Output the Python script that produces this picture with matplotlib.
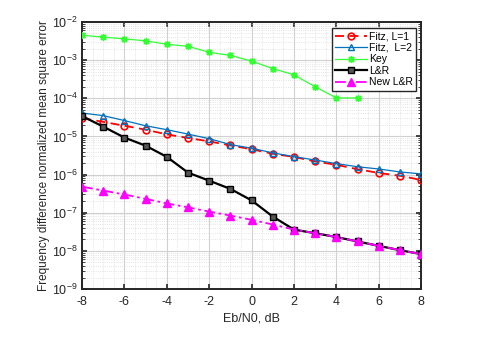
import matplotlib
matplotlib.use("Agg")
import matplotlib.pyplot as plt
from matplotlib.ticker import LogLocator, MultipleLocator, NullFormatter, FixedLocator

# ---------- data ----------
ebn0 = list(range(-8, 9))
ebn0_key = list(range(-8, 6))

fitz_l1 = [3.0e-5, 2.4e-5, 1.9e-5, 1.5e-5, 1.13e-5, 9.1e-6, 7.4e-6, 5.8e-6, 4.6e-6,
           3.5e-6, 2.9e-6, 2.2e-6, 1.8e-6, 1.38e-6, 1.1e-6, 9.3e-7, 7.2e-7]
fitz_l2 = [4.1e-5, 3.5e-5, 2.6e-5, 1.9e-5, 1.5e-5, 1.15e-5, 8.7e-6, 6.1e-6, 4.9e-6,
           3.7e-6, 2.95e-6, 2.4e-6, 1.94e-6, 1.6e-6, 1.4e-6, 1.17e-6, 1.04e-6]
key = [4.5e-3, 4.0e-3, 3.6e-3, 3.2e-3, 2.6e-3, 2.3e-3, 1.6e-3, 1.33e-3, 9.4e-4,
       6.0e-4, 4.1e-4, 2.0e-4, 1.02e-4, 1.02e-4]
lr = [3.4e-5, 1.8e-5, 9.3e-6, 5.7e-6, 2.9e-6, 1.12e-6, 6.9e-7, 4.2e-7, 2.1e-7,
      7.9e-8, 3.6e-8, 2.9e-8, 2.3e-8, 1.76e-8, 1.35e-8, 1.04e-8, 8.2e-9]
new_lr = [4.8e-7, 3.8e-7, 3.0e-7, 2.3e-7, 1.75e-7, 1.38e-7, 1.07e-7, 8.4e-8, 6.5e-8,
          4.9e-8, 3.6e-8, 2.9e-8, 2.3e-8, 1.76e-8, 1.35e-8, 1.04e-8, 8.2e-9]

xticks = [-8, -6, -4, -2, 0, 2, 4, 6, 8]
yticks = [1e-9, 1e-8, 1e-7, 1e-6, 1e-5, 1e-4, 1e-3, 1e-2]
ytick_labels = ["$10^{-9}$", "$10^{-8}$", "$10^{-7}$", "$10^{-6}$",
                "$10^{-5}$", "$10^{-4}$", "$10^{-3}$", "$10^{-2}$"]

plt.rcParams["font.family"] = ["Liberation Sans", "DejaVu Sans"]
plt.rcParams["mathtext.fontset"] = "custom"
plt.rcParams["mathtext.rm"] = "Liberation Sans"
plt.rcParams["mathtext.it"] = "Liberation Sans"

INK = "#262626"

fig = plt.figure(figsize=(4.83, 3.38), dpi=100)
ax = fig.add_axes([0.170, 0.145, 0.702, 0.790])

ax.plot(ebn0, fitz_l1, color="#ff0000", linestyle=(0, (5, 3)), linewidth=1.3,
        marker="o", markersize=4.8, markerfacecolor="none", markeredgewidth=1.2,
        label="Fitz, L=1", zorder=4)
ax.plot(ebn0, fitz_l2, color="#0072bd", linestyle="-", linewidth=0.9,
        marker="^", markersize=5, markerfacecolor="none", markeredgewidth=1.0,
        label="Fitz,  L=2", zorder=4)
ax.plot(ebn0_key, key, color="#33ff33", linestyle="-", linewidth=0.9,
        marker=(8, 2, 0), markersize=5, markeredgewidth=1.0,
        label="Key", zorder=4)
ax.plot(ebn0, lr, color="black", linestyle="-", linewidth=1.6,
        marker="s", markersize=4, markerfacecolor="#555555", markeredgecolor="black",
        markeredgewidth=1.0, label="L&R", zorder=4)
ax.plot(ebn0, new_lr, color="#ff00ff", linestyle=(0, (6, 2, 1.5, 2)), linewidth=1.3,
        marker="^", markersize=5.5, markerfacecolor="#ff00ff", markeredgecolor="#ff00ff",
        label="New L&R", zorder=5)

ax.set_yscale("log")
ax.set_xlim(-8, 8)
ax.set_ylim(1e-9, 1e-2)
ax.set_xticks(xticks)
ax.set_xticklabels([str(t) for t in xticks])
ax.yaxis.set_major_locator(FixedLocator(yticks))
ax.set_yticklabels(ytick_labels)
ax.yaxis.set_minor_locator(LogLocator(base=10, subs=range(2, 10), numticks=20))
ax.yaxis.set_minor_formatter(NullFormatter())
ax.xaxis.set_minor_locator(MultipleLocator(0.5))

ax.grid(which="major", color="#d0d0d0", linewidth=0.8, zorder=0)
ax.grid(which="minor", color="#dadada", linestyle=":", linewidth=0.6, zorder=0)
ax.set_axisbelow(True)

ax.tick_params(which="both", direction="in", top=True, right=True, colors=INK, labelsize=9)
ax.tick_params(which="major", length=3.5, width=1.2)
ax.tick_params(which="minor", length=2, width=0.6)
ax.tick_params(axis="x", which="minor", length=0)
ax.tick_params(axis="x", pad=5)
for side in ("left", "right", "top", "bottom"):
    ax.spines[side].set_color(INK)
    ax.spines[side].set_linewidth(1.4)

ax.set_xlabel("Eb/N0, dB", fontsize=9, color=INK, labelpad=3)
ax.set_ylabel("Frequency difference normalized mean square error", fontsize=8.5,
              color=INK, labelpad=1)

leg = ax.legend(loc="upper right", bbox_to_anchor=(0.99, 0.985), fontsize=7.5,
                frameon=True, fancybox=False, edgecolor=INK, framealpha=1,
                handlelength=3.0, handletextpad=0.2, borderpad=0.3,
                labelspacing=0.15, borderaxespad=0.2)
leg.get_frame().set_linewidth(1.0)
for t in leg.get_texts():
    t.set_color("black")

fig.savefig("out.png", dpi=100)
